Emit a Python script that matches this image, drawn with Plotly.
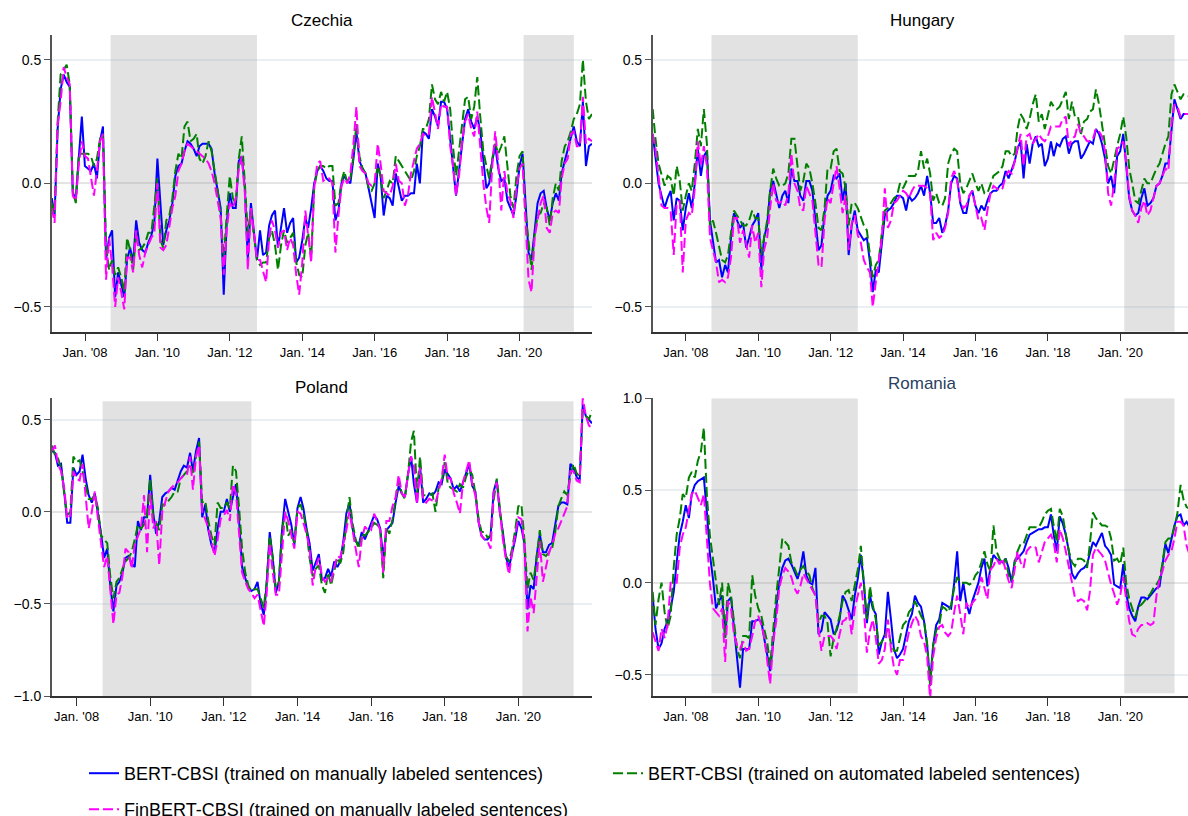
import pandas as pd
import plotly.graph_objects as go

# ---------------------------------------------------------------- dates
dates_main = list(pd.period_range("2007-01", "2021-12", freq="M")
                  .to_timestamp(how="end").normalize().strftime("%Y-%m-%d"))
dates_pl = list(pd.period_range("2007-04", "2021-12", freq="M")
                .to_timestamp(how="end").normalize().strftime("%Y-%m-%d"))

NAME_BERT_MAN = "BERT-CBSI (trained on manually labeled sentences)"
NAME_BERT_AUTO = "BERT-CBSI (trained on automated labeled sentences)"
NAME_FIN_MAN = "FinBERT-CBSI (trained on manually labeled sentences)"

# ---------------------------------------------------------------- Czechia
cz_bert_man = [
    -0.06, -0.13, 0.22, 0.38, 0.44, 0.41, 0.39, -0.04, -0.06, 0.12,
    0.27, 0.07, 0.06, 0.05, 0.08, 0.02, 0.17, 0.23, -0.31, -0.22,
    -0.19, -0.46, -0.36, -0.41, -0.46, -0.31, -0.26, -0.32, -0.15, -0.24,
    -0.27, -0.28, -0.24, -0.21, -0.16, 0.10, -0.11, -0.25, -0.19, -0.15,
    -0.08, 0.03, 0.07, 0.08, 0.13, 0.17, 0.16, 0.14, 0.11, 0.15,
    0.16, 0.16, 0.16, 0.14, 0.04, -0.03, -0.10, -0.45, -0.16, -0.04,
    -0.10, -0.10, 0.09, 0.11, -0.02, -0.31, -0.08, -0.20, -0.31, -0.19,
    -0.29, -0.28, -0.17, -0.13, -0.11, -0.26, -0.18, -0.10, -0.20, -0.16,
    -0.14, -0.32, -0.30, -0.23, -0.14, -0.18, -0.10, 0.00, 0.05, 0.07,
    0.05, 0.02, 0.01, 0.01, -0.15, -0.11, 0.00, 0.03, 0.01, 0.00,
    0.10, 0.21, 0.09, 0.06, 0.04, -0.02, -0.08, -0.14, 0.08, 0.03,
    -0.13, -0.05, -0.06, -0.09, 0.04, -0.01, -0.07, -0.05, -0.05, -0.04,
    -0.04, 0.08, 0.00, 0.21, 0.20, 0.18, 0.30, 0.27, 0.23, 0.33,
    0.33, 0.30, 0.18, 0.08, -0.05, 0.05, 0.17, 0.26, 0.30, 0.25,
    0.22, 0.27, 0.21, 0.09, -0.02, 0.00, 0.09, 0.15, 0.06, 0.01,
    0.02, -0.07, -0.10, -0.13, -0.05, 0.07, 0.12, -0.09, -0.28, -0.31,
    -0.20, -0.08, -0.04, -0.03, -0.10, -0.15, -0.08, -0.04, -0.07, 0.04,
    0.09, 0.14, 0.18, 0.23, 0.17, 0.15, 0.33, 0.07, 0.15, 0.16,
]
cz_bert_auto = [
    -0.08, -0.12, 0.25, 0.44, 0.46, 0.48, 0.40, -0.03, -0.08, 0.12,
    0.12, 0.12, 0.12, 0.11, 0.07, 0.10, 0.18, 0.20, -0.25, -0.35,
    -0.31, -0.37, -0.34, -0.38, -0.44, -0.22, -0.27, -0.35, -0.20, -0.27,
    -0.26, -0.24, -0.20, -0.20, -0.08, 0.02, -0.23, -0.26, -0.15, -0.13,
    -0.06, 0.05, 0.12, 0.10, 0.23, 0.25, 0.17, 0.18, 0.20, 0.10,
    0.08, 0.11, 0.17, 0.13, 0.05, -0.03, -0.13, -0.30, -0.13, 0.03,
    -0.06, -0.08, 0.10, 0.19, 0.00, -0.20, -0.11, -0.22, -0.31, -0.33,
    -0.32, -0.32, -0.22, -0.19, -0.25, -0.35, -0.25, -0.19, -0.24, -0.22,
    -0.20, -0.32, -0.37, -0.38, -0.25, -0.20, -0.30, -0.02, 0.05, 0.07,
    0.07, 0.06, 0.07, 0.07, -0.09, -0.08, 0.01, 0.05, 0.00, 0.02,
    0.11, 0.24, 0.11, 0.06, 0.04, -0.02, -0.03, 0.00, 0.07, 0.03,
    -0.06, -0.03, 0.01, 0.00, 0.11, 0.09, 0.07, 0.05, 0.03, 0.01,
    0.05, 0.11, 0.15, 0.22, 0.22, 0.26, 0.40, 0.34, 0.32, 0.37,
    0.33, 0.37, 0.30, 0.15, 0.03, 0.13, 0.23, 0.34, 0.35, 0.26,
    0.31, 0.43, 0.27, 0.13, 0.07, 0.02, 0.10, 0.16, 0.12, 0.15,
    0.19, 0.07, -0.05, -0.10, 0.03, 0.11, 0.13, -0.12, -0.24, -0.35,
    -0.21, -0.13, -0.12, -0.08, -0.10, -0.17, -0.06, 0.00, -0.03, 0.09,
    0.15, 0.17, 0.21, 0.26, 0.28, 0.32, 0.50, 0.33, 0.26, 0.28,
]
cz_fin_man = [
    -0.10, -0.16, 0.24, 0.33, 0.47, 0.43, 0.40, -0.05, -0.07, 0.08,
    0.17, 0.11, 0.10, 0.03, -0.05, 0.05, 0.17, 0.20, -0.39, -0.22,
    -0.33, -0.50, -0.38, -0.44, -0.51, -0.30, -0.30, -0.36, -0.19, -0.29,
    -0.34, -0.28, -0.25, -0.22, -0.20, 0.00, -0.26, -0.27, -0.25, -0.18,
    -0.10, -0.05, 0.05, 0.08, 0.13, 0.16, 0.15, 0.14, 0.13, 0.12,
    0.11, 0.10, 0.08, 0.05, 0.00, -0.07, -0.14, -0.37, -0.19, -0.08,
    -0.10, -0.06, 0.06, 0.11, -0.04, -0.35, -0.10, -0.20, -0.31, -0.31,
    -0.35, -0.40, -0.22, -0.15, -0.19, -0.26, -0.20, -0.19, -0.27, -0.22,
    -0.25, -0.37, -0.45, -0.32, -0.11, -0.20, -0.32, -0.02, 0.08, 0.09,
    0.01, 0.02, 0.02, 0.00, -0.28, -0.13, -0.01, 0.02, 0.00, 0.04,
    0.16, 0.31, 0.07, 0.05, 0.04, 0.00, -0.01, 0.00, 0.16, 0.08,
    -0.03, -0.04, -0.05, -0.01, 0.08, 0.01, 0.00, -0.09, -0.05, 0.04,
    0.10, 0.14, 0.16, 0.20, 0.19, 0.20, 0.35, 0.28, 0.22, 0.32,
    0.31, 0.31, 0.15, 0.07, -0.05, 0.03, 0.17, 0.25, 0.28, 0.22,
    0.19, 0.29, 0.13, 0.00, -0.10, -0.16, 0.07, 0.21, 0.08, -0.11,
    0.05, -0.04, -0.07, -0.14, -0.02, 0.06, 0.08, -0.13, -0.39, -0.44,
    -0.22, -0.15, -0.08, -0.05, -0.18, -0.20, -0.12, -0.11, -0.12, 0.02,
    0.08, 0.10, 0.20, 0.21, 0.15, 0.15, 0.35, 0.16, 0.18, 0.17,
]

# ---------------------------------------------------------------- Hungary
hu_bert_man = [
    0.20, 0.10, 0.00, -0.05, -0.10, -0.06, -0.03, -0.15, -0.06, -0.07,
    -0.19, -0.10, -0.04, -0.10, 0.00, 0.14, 0.03, 0.11, 0.13, -0.15,
    -0.24, -0.32, -0.31, -0.38, -0.33, -0.36, -0.22, -0.12, -0.15, -0.18,
    -0.16, -0.26, -0.22, -0.17, -0.15, -0.12, -0.35, -0.22, -0.17, -0.03,
    0.01, -0.04, -0.10, -0.05, -0.03, -0.08, 0.06, 0.01, 0.01, -0.05,
    -0.07, 0.01, 0.01, -0.03, -0.16, -0.27, -0.25, -0.12, -0.05, -0.03,
    0.03, 0.02, 0.04, -0.07, 0.00, -0.29, -0.17, -0.11, -0.19, -0.21,
    -0.23, -0.22, -0.32, -0.44, -0.35, -0.36, -0.25, -0.13, -0.11, -0.10,
    -0.08, -0.05, -0.05, -0.06, -0.11, -0.05, -0.07, -0.06, -0.04, -0.01,
    -0.05, 0.03, -0.04, -0.16, -0.16, -0.14, -0.20, -0.17, -0.11, 0.00,
    0.03, 0.02, -0.08, -0.12, -0.12, -0.05, -0.03, -0.09, -0.12, -0.09,
    -0.11, -0.07, -0.04, -0.03, -0.03, -0.01, 0.00, 0.05, 0.02, 0.06,
    0.09, 0.14, 0.17, 0.02, 0.16, 0.08, 0.16, 0.19, 0.15, 0.16,
    0.07, 0.10, 0.17, 0.11, 0.16, 0.15, 0.18, 0.19, 0.12, 0.16,
    0.17, 0.17, 0.10, 0.12, 0.15, 0.17, 0.16, 0.22, 0.20, 0.16,
    0.10, 0.00, 0.03, -0.04, 0.11, 0.13, 0.20, 0.06, -0.06, -0.11,
    -0.13, -0.12, -0.06, -0.02, -0.09, -0.08, -0.06, -0.01, 0.00, 0.03,
    0.08, 0.08, 0.23, 0.34, 0.30, 0.26, 0.28, 0.28, 0.28, 0.28,
]
hu_bert_auto = [
    0.30, 0.18, 0.08, 0.04, -0.01, 0.03, 0.02, -0.05, 0.07, 0.01,
    -0.11, -0.05, 0.00, -0.03, 0.08, 0.22, 0.15, 0.30, 0.16, -0.18,
    -0.15, -0.20, -0.26, -0.31, -0.32, -0.29, -0.20, -0.11, -0.13, -0.15,
    -0.17, -0.17, -0.15, -0.11, -0.14, -0.14, -0.29, -0.22, -0.15, -0.03,
    0.06, 0.02, -0.01, -0.01, 0.00, 0.04, 0.18, 0.18, 0.06, -0.03,
    0.01, 0.08, 0.06, 0.00, -0.08, -0.18, -0.19, -0.10, 0.06, 0.06,
    0.13, 0.14, 0.05, 0.04, -0.02, -0.17, -0.08, -0.08, -0.10, -0.14,
    -0.17, -0.19, -0.30, -0.38, -0.33, -0.31, -0.20, -0.11, -0.10, -0.08,
    -0.06, -0.05, 0.00, -0.02, 0.01, 0.03, 0.03, 0.03, 0.05, 0.13,
    0.06, 0.10, 0.04, -0.07, -0.04, -0.08, -0.09, -0.06, 0.08, 0.12,
    0.14, 0.13, 0.00, -0.04, -0.02, 0.01, 0.04, 0.00, -0.03, 0.00,
    -0.04, -0.04, 0.00, 0.03, 0.04, 0.05, 0.07, 0.13, 0.13, 0.11,
    0.12, 0.22, 0.28, 0.26, 0.22, 0.26, 0.32, 0.36, 0.25, 0.28,
    0.22, 0.27, 0.33, 0.31, 0.30, 0.31, 0.34, 0.37, 0.26, 0.33,
    0.27, 0.27, 0.20, 0.25, 0.26, 0.29, 0.30, 0.38, 0.32, 0.24,
    0.14, 0.07, 0.04, 0.10, 0.15, 0.20, 0.27, 0.19, 0.06, 0.00,
    -0.07, -0.08, -0.03, 0.02, 0.00, 0.00, 0.03, 0.06, 0.08, 0.12,
    0.16, 0.19, 0.36, 0.40, 0.37, 0.34, 0.36, 0.36, 0.35, 0.36,
]
hu_fin_man = [
    0.20, 0.14, 0.03, -0.09, -0.10, -0.10, -0.11, -0.29, -0.08, -0.07,
    -0.36, -0.15, -0.12, -0.13, -0.02, 0.17, 0.07, 0.15, 0.07, -0.22,
    -0.27, -0.32, -0.40, -0.39, -0.40, -0.38, -0.30, -0.14, -0.14, -0.24,
    -0.19, -0.25, -0.30, -0.17, -0.24, -0.20, -0.42, -0.27, -0.22, -0.10,
    0.00, -0.07, -0.08, -0.07, -0.09, -0.04, 0.12, 0.00, -0.03, -0.10,
    -0.11, -0.01, -0.04, -0.07, -0.20, -0.33, -0.34, -0.15, -0.06, -0.08,
    0.00, 0.07, -0.02, -0.12, -0.05, -0.27, -0.16, -0.13, -0.21, -0.24,
    -0.31, -0.34, -0.36, -0.50, -0.40, -0.32, -0.22, -0.02, -0.18, -0.15,
    -0.08, -0.07, -0.05, -0.03, -0.04, -0.06, -0.03, -0.01, -0.01, -0.01,
    -0.01, -0.02, -0.04, -0.23, -0.20, -0.22, -0.21, -0.18, -0.12, 0.02,
    0.05, 0.01, -0.07, -0.10, -0.09, -0.05, -0.03, -0.09, -0.15, -0.14,
    -0.19, -0.11, -0.04, -0.01, -0.02, -0.03, -0.02, 0.03, 0.05, 0.04,
    0.09, 0.14, 0.20, 0.07, 0.19, 0.20, 0.16, 0.18, 0.20, 0.18,
    0.17, 0.19, 0.23, 0.23, 0.23, 0.23, 0.26, 0.27, 0.15, 0.18,
    0.19, 0.24, 0.20, 0.19, 0.17, 0.17, 0.18, 0.22, 0.21, 0.19,
    0.13, -0.04, -0.09, 0.00, 0.14, 0.15, 0.17, 0.09, -0.05, -0.11,
    -0.13, -0.16, -0.10, -0.07, -0.13, -0.11, -0.06, -0.01, 0.00, 0.03,
    0.06, 0.05, 0.24, 0.32, 0.31, 0.27, 0.28, 0.28, 0.28, 0.27,
]

# ---------------------------------------------------------------- Poland (from 2007-04)
pl_bert_man = [
    0.33, 0.32, 0.25, 0.26, 0.11, -0.06, -0.06, 0.24, 0.20, 0.22,
    0.31, 0.18, 0.09, 0.05, 0.10, 0.00, -0.12, -0.25, -0.20, -0.40,
    -0.54, -0.40, -0.38, -0.33, -0.25, -0.24, -0.28, -0.30, -0.05, -0.10,
    -0.03, -0.03, 0.20, -0.01, -0.12, -0.05, 0.08, 0.10, 0.11, 0.13,
    0.12, 0.17, 0.22, 0.25, 0.24, 0.32, 0.22, 0.33, 0.40, -0.03,
    0.04, -0.10, -0.18, -0.22, -0.09, 0.00, 0.00, 0.07, 0.00, 0.08,
    0.15, -0.05, -0.30, -0.36, -0.41, -0.43, -0.42, -0.38, -0.50, -0.56,
    -0.40, -0.11, -0.25, -0.44, -0.38, -0.10, 0.07, 0.00, -0.07, -0.18,
    0.02, 0.08, 0.02, -0.09, -0.17, -0.32, -0.27, -0.23, -0.37, -0.36,
    -0.31, -0.35, -0.27, -0.30, -0.27, -0.16, -0.01, 0.05, -0.09, -0.16,
    -0.18, -0.11, -0.15, -0.11, -0.07, -0.02, -0.04, -0.09, -0.25, -0.10,
    -0.08, -0.06, 0.05, 0.14, 0.10, 0.08, 0.20, 0.30, 0.15, 0.05,
    0.25, 0.05, 0.07, 0.10, 0.09, 0.11, 0.16, 0.15, 0.23, 0.20,
    0.18, 0.12, 0.14, 0.11, 0.16, 0.22, 0.26, 0.14, 0.11, -0.05,
    -0.13, -0.15, -0.15, -0.13, 0.11, 0.17, 0.00, -0.11, -0.25, -0.30,
    -0.22, -0.15, -0.05, -0.09, -0.17, -0.53, -0.40, -0.42, -0.24, -0.12,
    -0.22, -0.22, -0.18, -0.17, -0.07, 0.03, 0.05, 0.05, 0.04, 0.26,
    0.24, 0.19, 0.17, 0.58, 0.52, 0.50, 0.48,
]
pl_bert_auto = [
    0.36, 0.31, 0.29, 0.24, 0.10, -0.02, 0.00, 0.30, 0.27, 0.28,
    0.22, 0.15, 0.07, 0.07, 0.09, 0.02, -0.13, -0.15, -0.17, -0.35,
    -0.47, -0.38, -0.36, -0.31, -0.27, -0.25, -0.22, -0.15, -0.07, -0.09,
    -0.07, -0.02, 0.18, -0.04, -0.06, -0.10, 0.04, 0.04, 0.06, 0.08,
    0.11, 0.11, 0.18, 0.20, 0.22, 0.25, 0.20, 0.30, 0.38, 0.05,
    0.06, -0.05, -0.13, -0.18, 0.05, 0.02, 0.02, 0.05, 0.02, 0.25,
    0.22, 0.02, -0.20, -0.33, -0.40, -0.43, -0.42, -0.42, -0.47, -0.52,
    -0.38, -0.13, -0.25, -0.42, -0.38, -0.10, 0.00, -0.13, -0.10, -0.17,
    0.02, 0.04, -0.01, -0.10, -0.25, -0.35, -0.31, -0.29, -0.40, -0.44,
    -0.33, -0.40, -0.32, -0.25, -0.28, -0.22, -0.06, 0.08, -0.06, -0.15,
    -0.20, -0.12, -0.13, -0.11, -0.09, -0.06, -0.07, -0.10, -0.36, -0.09,
    -0.12, -0.04, 0.06, 0.17, 0.10, 0.07, 0.20, 0.38, 0.44, 0.10,
    0.30, 0.09, 0.09, 0.09, 0.10, 0.00, 0.13, 0.16, 0.27, 0.15,
    0.13, 0.12, 0.11, 0.15, 0.13, 0.19, 0.23, 0.20, 0.10, -0.03,
    -0.11, -0.11, -0.14, -0.13, 0.06, 0.18, 0.01, -0.13, -0.24, -0.27,
    -0.20, -0.10, 0.03, 0.04, -0.15, -0.42, -0.33, -0.37, -0.25, -0.10,
    -0.23, -0.24, -0.22, -0.20, -0.11, 0.03, 0.07, 0.11, 0.09, 0.20,
    0.26, 0.21, 0.19, 0.55, 0.52, 0.50, 0.55,
]
pl_fin_man = [
    0.33, 0.36, 0.26, 0.22, 0.13, -0.04, -0.02, 0.22, 0.18, 0.17,
    0.26, 0.09, -0.09, 0.00, 0.11, -0.04, -0.16, -0.30, -0.24, -0.42,
    -0.61, -0.45, -0.44, -0.35, -0.20, -0.22, -0.31, -0.18, -0.13, -0.09,
    0.09, -0.22, 0.10, -0.09, -0.05, -0.29, 0.00, 0.06, 0.11, 0.13,
    0.15, 0.16, 0.18, 0.20, 0.20, 0.30, 0.12, 0.30, 0.36, 0.00,
    -0.04, -0.09, -0.16, -0.24, -0.15, -0.04, -0.02, 0.01, -0.05, 0.15,
    0.10, -0.13, -0.33, -0.38, -0.42, -0.44, -0.47, -0.45, -0.53, -0.62,
    -0.45, -0.17, -0.33, -0.45, -0.45, -0.24, 0.00, -0.05, -0.13, -0.20,
    0.00, -0.01, -0.06, -0.12, -0.20, -0.40, -0.30, -0.25, -0.35, -0.38,
    -0.36, -0.38, -0.30, -0.24, -0.25, -0.18, -0.10, 0.00, -0.10, -0.20,
    -0.30, -0.15, -0.08, -0.10, -0.10, -0.01, -0.05, -0.10, -0.33, -0.05,
    -0.05, 0.03, 0.08, 0.20, 0.10, 0.08, 0.20, 0.30, 0.25, 0.04,
    0.24, 0.07, 0.05, 0.07, 0.06, 0.05, 0.11, 0.18, 0.31, 0.18,
    0.18, 0.10, 0.05, -0.01, 0.16, 0.22, 0.28, 0.15, 0.09, -0.05,
    -0.13, -0.15, -0.16, -0.20, 0.10, 0.16, 0.00, -0.15, -0.26, -0.34,
    -0.22, -0.12, -0.03, -0.04, -0.18, -0.65, -0.46, -0.55, -0.35, -0.16,
    -0.38, -0.30, -0.22, -0.18, -0.12, -0.09, -0.05, -0.01, 0.03, 0.22,
    0.22, 0.17, 0.16, 0.62, 0.52, 0.47, 0.45,
]

# ---------------------------------------------------------------- Romania
ro_bert_man = [
    -0.07, -0.25, -0.36, -0.33, -0.25, -0.21, -0.14, -0.05, 0.11, 0.26,
    0.33, 0.42, 0.35, 0.48, 0.53, 0.55, 0.56, 0.57, 0.38, 0.15,
    0.02, -0.14, -0.10, -0.07, -0.30, -0.10, -0.08, -0.25, -0.43, -0.57,
    -0.36, -0.36, -0.36, -0.21, -0.21, -0.20, -0.21, -0.30, -0.40, -0.48,
    -0.32, -0.14, 0.00, 0.08, 0.12, 0.13, 0.10, 0.06, 0.02, 0.07,
    0.17, 0.04, 0.00, -0.01, 0.08, -0.28, -0.26, -0.16, -0.18, -0.20,
    -0.28, -0.26, -0.20, -0.07, -0.10, -0.15, -0.20, -0.07, 0.02, 0.15,
    0.00, -0.22, -0.07, -0.14, -0.17, -0.39, -0.32, -0.28, -0.05, -0.20,
    -0.36, -0.41, -0.39, -0.36, -0.27, -0.21, -0.17, -0.07, -0.11, -0.13,
    -0.21, -0.34, -0.54, -0.34, -0.23, -0.20, -0.11, -0.12, -0.13, -0.14,
    0.00, 0.17, -0.10, 0.00, -0.11, -0.17, -0.10, -0.05, 0.00, 0.08,
    0.13, -0.02, 0.08, 0.15, 0.13, 0.12, 0.11, 0.13, 0.08, 0.00,
    0.12, 0.13, 0.15, 0.17, 0.22, 0.26, 0.27, 0.28, 0.29, 0.29,
    0.30, 0.30, 0.37, 0.26, 0.17, 0.36, 0.32, 0.26, 0.17, 0.05,
    0.02, 0.05, 0.07, 0.08, 0.10, 0.16, 0.22, 0.20, 0.24, 0.27,
    0.20, 0.18, 0.15, -0.01, -0.02, -0.03, 0.10, -0.06, -0.14, -0.18,
    -0.21, -0.13, -0.08, -0.08, -0.09, -0.07, -0.05, -0.03, -0.02, 0.10,
    0.21, 0.16, 0.24, 0.31, 0.36, 0.37, 0.31, 0.33, 0.30, 0.31,
]
ro_bert_auto = [
    -0.05, -0.23, -0.09, 0.00, -0.16, -0.25, -0.18, 0.08, 0.26, 0.35,
    0.48, 0.46, 0.57, 0.60, 0.57, 0.66, 0.71, 0.84, 0.47, 0.25,
    0.13, 0.00, -0.12, 0.00, -0.30, 0.00, -0.07, -0.21, -0.36, -0.41,
    -0.29, -0.29, -0.30, 0.04, -0.07, -0.14, -0.18, -0.25, -0.32, -0.45,
    -0.25, -0.07, 0.08, 0.24, 0.22, 0.20, 0.11, 0.08, 0.04, 0.07,
    0.09, 0.06, 0.04, -0.03, -0.07, -0.22, -0.18, -0.18, -0.22, -0.40,
    -0.30, -0.25, -0.18, -0.10, -0.05, -0.04, -0.10, -0.02, 0.07, 0.20,
    0.00, -0.20, -0.02, -0.12, -0.20, -0.34, -0.32, -0.29, -0.25, -0.33,
    -0.37, -0.37, -0.30, -0.23, -0.21, -0.16, -0.14, -0.10, -0.14, -0.18,
    -0.21, -0.33, -0.56, -0.34, -0.26, -0.23, -0.13, -0.14, -0.16, -0.12,
    -0.03, 0.03, 0.00, 0.00, 0.00, -0.01, 0.00, 0.04, 0.06, 0.11,
    0.17, 0.10, 0.06, 0.31, 0.17, 0.13, 0.10, 0.13, 0.04, 0.01,
    0.11, 0.17, 0.21, 0.21, 0.26, 0.30, 0.30, 0.30, 0.30, 0.33,
    0.37, 0.39, 0.40, 0.31, 0.22, 0.40, 0.36, 0.26, 0.17, 0.11,
    0.09, 0.13, 0.13, 0.12, 0.08, 0.21, 0.38, 0.35, 0.33, 0.31,
    0.31, 0.30, 0.24, 0.12, 0.13, 0.10, 0.19, 0.00, -0.09, -0.14,
    -0.19, -0.13, -0.12, -0.10, -0.08, -0.06, -0.03, -0.01, 0.02, 0.10,
    0.22, 0.24, 0.24, 0.30, 0.38, 0.53, 0.45, 0.41, 0.40, 0.42,
]
ro_fin_man = [
    -0.27, -0.32, -0.37, -0.25, -0.30, -0.23, 0.00, 0.00, 0.00, 0.19,
    0.26, 0.30, 0.39, 0.48, 0.50, 0.46, 0.42, 0.48, 0.26, -0.01,
    -0.14, -0.16, -0.18, -0.14, -0.43, -0.10, -0.14, -0.28, -0.34, -0.36,
    -0.32, -0.37, -0.36, -0.29, -0.21, -0.18, -0.23, -0.29, -0.43, -0.55,
    -0.32, -0.21, -0.03, 0.04, 0.08, 0.06, 0.03, -0.03, -0.06, -0.02,
    0.05, 0.02, -0.01, -0.04, -0.07, -0.25, -0.37, -0.29, -0.29, -0.29,
    -0.31, -0.36, -0.28, -0.21, -0.20, -0.16, -0.28, -0.14, -0.07, 0.00,
    -0.14, -0.38, -0.26, -0.20, -0.30, -0.44, -0.42, -0.36, -0.20, -0.36,
    -0.46, -0.50, -0.42, -0.42, -0.34, -0.27, -0.22, -0.18, -0.21, -0.29,
    -0.32, -0.40, -0.63, -0.40, -0.30, -0.24, -0.23, -0.27, -0.29, -0.27,
    -0.16, -0.07, -0.17, -0.28, -0.11, -0.14, -0.11, -0.09, -0.05, 0.03,
    -0.03, -0.09, 0.07, 0.09, 0.13, 0.10, 0.13, 0.06, 0.01, -0.03,
    0.08, 0.17, 0.11, 0.08, 0.17, 0.19, 0.20, 0.19, 0.11, 0.17,
    0.22, 0.24, 0.26, 0.22, 0.11, 0.29, 0.24, 0.17, 0.09, 0.00,
    -0.08, -0.10, -0.09, -0.10, -0.15, -0.05, 0.15, 0.19, 0.17, 0.15,
    0.12, 0.05, -0.01, -0.06, -0.12, -0.07, 0.03, -0.09, -0.21, -0.28,
    -0.29, -0.25, -0.23, -0.23, -0.22, -0.23, -0.22, -0.07, 0.02, 0.06,
    0.12, 0.15, 0.17, 0.24, 0.33, 0.33, 0.31, 0.20, 0.15, 0.14,
]

# shaded periods
shade_starts = ["2008-09-15", "2020-02-10"]
shade_ends = ["2012-09-30", "2021-07-01"]

# ---------------------------------------------------------------- panels
W, H = 1188, 816
panels = [
    # title, dates, series, axis suffix, x px span, y px span, y range,
    # shade y span, title colour, x range, title y px
    ("Czechia", dates_main, (cz_bert_man, cz_bert_auto, cz_fin_man), "",
     (51.8, 592.0), (35.0, 331.7), [-0.6, 0.6], (-0.6, 0.6), "#000000",
     ["2007-01-31", "2021-12-31"], 20),
    ("Hungary", dates_main, (hu_bert_man, hu_bert_auto, hu_fin_man), "2",
     (652.7, 1188.0), (35.0, 331.7), [-0.6, 0.6], (-0.6, 0.6), "#000000",
     ["2007-01-31", "2021-11-14"], 20),
    ("Poland", dates_pl, (pl_bert_man, pl_bert_auto, pl_fin_man), "3",
     (51.8, 592.0), (398.3, 696.0), [-1.0, 0.616], (-1.0, 0.6), "#000000",
     ["2007-04-30", "2021-12-31"], 387),
    ("Romania", dates_main, (ro_bert_man, ro_bert_auto, ro_fin_man), "4",
     (652.7, 1188.0), (398.3, 696.0), [-0.615, 1.0], (-0.6, 1.0), "#2a3f5f",
     ["2007-01-31", "2021-11-14"], 383),
]

styles = [
    (NAME_BERT_MAN, "#0000ff", "solid", "legend"),
    (NAME_BERT_AUTO, "#008000", "10px,4px", "legend2"),
    (NAME_FIN_MAN, "#ff00ff", "10px,4px", "legend3"),
]

FONT = "Liberation Sans, Arial, sans-serif"
fig = go.Figure()
layout = dict(
    width=W, height=H,
    margin=dict(l=0, r=0, t=0, b=0, autoexpand=False),
    paper_bgcolor="white", plot_bgcolor="white",
    font=dict(family=FONT, size=14, color="#000000"),
    shapes=[], annotations=[],
)

for k, (title, dts, series, sfx, (x0, x1), (y0, y1), yrange, (sy0, sy1),
        tcol, xrange, ty) in enumerate(panels):
    xa, ya = "x" + sfx, "y" + sfx
    for s, (name, color, dash, leg) in enumerate(styles):
        fig.add_trace(go.Scatter(
            x=dts, y=series[s], mode="lines", name=name,
            line=dict(color=color, width=2, dash=dash),
            xaxis=xa, yaxis=ya, legend=leg, showlegend=(k == 0),
        ))
    layout["xaxis" + sfx] = dict(
        domain=[x0 / W, x1 / W], anchor=ya, type="date", range=xrange,
        tick0="2008-01-01", dtick="M24", tickformat="%b. '%y",
        showgrid=False, zeroline=False, showline=True, linecolor="#333333",
        linewidth=1.5, ticks="outside", ticklen=8, tickcolor="#333333",
        tickfont=dict(size=13, color="#000000"),
    )
    layout["yaxis" + sfx] = dict(
        domain=[1 - y1 / H, 1 - y0 / H], anchor=xa, range=yrange,
        tickvals=[-1.0, -0.5, 0.0, 0.5, 1.0], tickformat=".1f",
        showgrid=True, gridcolor="#EAEFF4", gridwidth=1.5,
        zeroline=True, zerolinecolor="#E4E4E4", zerolinewidth=1.5,
        showline=True, linecolor="#555555", linewidth=1.5,
        ticks="outside", ticklen=6, tickcolor="#555555",
        tickfont=dict(size=14, color="#000000"),
    )
    for a, b in zip(shade_starts, shade_ends):
        layout["shapes"].append(dict(
            type="rect", xref=xa, yref=ya, x0=a, x1=b, y0=sy0, y1=sy1,
            fillcolor="rgba(160,160,160,0.3)", line=dict(width=0), layer="between",
        ))
    cx = (x0 + x1) / 2 if sfx in ("", "3") else (x0 + 1193.0) / 2
    layout["annotations"].append(dict(
        text=title, showarrow=False, xref="paper", yref="paper",
        x=cx / W, y=1 - ty / H, xanchor="center", yanchor="middle",
        font=dict(size=17, color=tcol, family=FONT),
    ))

legend_common = dict(orientation="h", xanchor="left", yanchor="top",
                     bgcolor="rgba(0,0,0,0)", font=dict(size=18, color="#000000"),
                     xref="paper", yref="paper")
layout["legend"] = dict(legend_common, x=84 / W, y=1 - 755 / H)
layout["legend2"] = dict(legend_common, x=608 / W, y=1 - 755 / H)
layout["legend3"] = dict(legend_common, x=84 / W, y=1 - 791 / H)

fig.update_layout(**layout)
fig.write_html("out.html")
